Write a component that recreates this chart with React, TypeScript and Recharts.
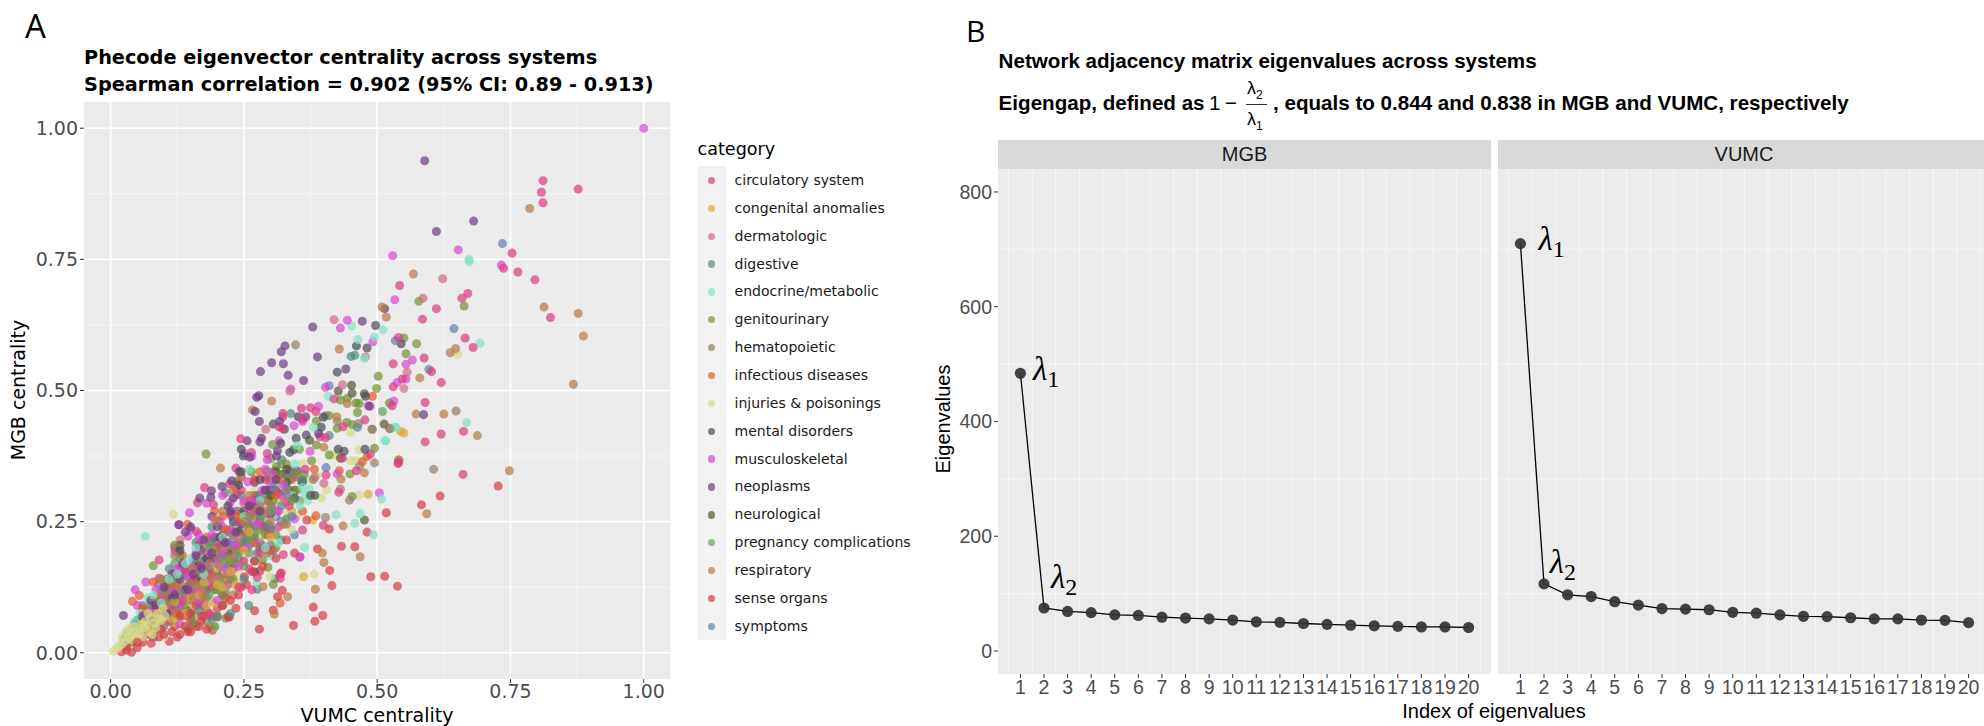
import {
  CartesianGrid,
  Cell,
  Line,
  LineChart,
  ReferenceDot,
  Scatter,
  ScatterChart,
  XAxis,
  YAxis,
  ZAxis,
} from "recharts";

type Pt = [number, number];

const circulatory: Pt[] = [[.811,.9],[.877,.884],[.808,.878],[.811,.858],[.753,.762],[.737,.733],[.764,.726],[.796,.711],[.542,.7],[.67,.685],[.659,.676],[.611,.656],[.825,.639],[.585,.636],[.665,.6],[.54,.601],[.68,.582],[.588,.562],[.53,.551],[.602,.536],[.547,.522],[.62,.515],[.53,.507],[.419,.484],[.528,.471],[.59,.477],[.62,.417],[.59,.402],[.662,.422],[.358,.466],[.375,.467],[.385,.46],[.323,.456],[.323,.45],[.477,.444],[.36,.445],[.436,.431],[.316,.431],[.322,.428],[.393,.412],[.403,.41],[.244,.408],[.264,.382],[.294,.38],[.487,.379],[.435,.371],[.54,.362],[.539,.361],[.661,.34],[.404,.339],[.461,.347],[.235,.352],[.176,.315],[.163,.286],[.223,.322],[.235,.313],[.236,.301],[.428,.306],[.399,.243],[.36,.234],[.355,.183],[.318,.142],[.318,.15],[.275,.144],[.121,.193],[.091,.177],[.091,.142],[.193,.282],[.161,.231],[.249,.2],[.227,.26],[.302,.279],[.265,.282],[.33,.288],[.293,.196],[.324,.187],[.28,.25],[.3,.235],[.2,.19],[.18,.12],[.15,.11],[.13,.16],[.07,.05],[.1,.09],[.21,.15],[.26,.16],[.17,.07],[.245,.31],[.03,.02],[.045,.05],[.055,.035],[.065,.07],[.08,.06],[.085,.085],[.095,.07],[.105,.105],[.115,.08],[.125,.125],[.135,.098],[.14,.155],[.145,.072],[.155,.14],[.165,.118],[.17,.165],[.175,.09],[.185,.15],[.19,.125],[.195,.18],[.205,.205],[.21,.11],[.22,.13],[.225,.235],[.23,.16],[.24,.25],[.25,.175],[.255,.23],[.26,.27],[.27,.21],[.275,.3],[.28,.19],[.285,.24],[.29,.33],[.295,.265],[.31,.31],[.315,.24],[.335,.28],[.345,.335],[.365,.35],[.24,.125],[.265,.12],[.15,.06],[.185,.075]];
const congenital: Pt[] = [[.544,.422],[.55,.419],[.483,.302],[.379,.253],[.362,.145],[.09,.082],[.1,.078],[.125,.072],[.135,.085],[.15,.09],[.16,.075],[.06,.05],[.07,.062],[.17,.1],[.185,.125],[.205,.15],[.22,.17],[.245,.21],[.11,.1],[.13,.11],[.145,.067],[.09,.115],[.035,.03],[.05,.035],[.28,.255],[.34,.27],[.12,.058],[.155,.13],[.195,.095],[.19,.165],[.04,.04],[.055,.03],[.065,.045],[.08,.04],[.085,.07],[.105,.085],[.115,.065],[.12,.098],[.14,.075],[.15,.105],[.165,.11],[.175,.135],[.18,.09],[.2,.13],[.21,.125],[.225,.155],[.235,.13],[.25,.195],[.26,.23],[.3,.22]];
const dermatologic: Pt[] = [[.623,.713],[.586,.676],[.419,.635],[.478,.564],[.556,.535],[.435,.511],[.55,.504],[.336,.499],[.291,.426],[.4,.323],[.383,.335],[.14,.145],[.2,.22],[.11,.06],[.07,.04],[.18,.19],[.25,.285],[.265,.24],[.23,.18],[.15,.1],[.3,.3],[.1,.13],[.12,.15],[.34,.33],[.285,.205],[.31,.26],[.13,.215],[.195,.255],[.16,.165],[.045,.035],[.06,.055],[.08,.075],[.09,.055],[.105,.09],[.13,.125],[.145,.11],[.155,.16],[.17,.12],[.185,.17],[.2,.14],[.215,.2],[.225,.15],[.24,.22],[.27,.27],[.29,.27],[.325,.29]];
const digestive: Pt[] = [[.451,.565],[.458,.567],[.338,.456],[.215,.305],[.321,.368],[.308,.141],[.275,.121],[.259,.09],[.41,.414],[.245,.3],[.27,.282],[.29,.31],[.305,.29],[.312,.27],[.265,.22],[.29,.24],[.24,.2],[.2,.19],[.16,.21],[.18,.2],[.11,.16],[.13,.13],[.09,.1],[.06,.06],[.04,.045],[.08,.03],[.1,.05],[.15,.07],[.17,.09],[.22,.15],[.215,.115],[.19,.24],[.13,.19],[.33,.315],[.36,.33],[.025,.015],[.245,.265],[.32,.215],[.305,.195],[.03,.03],[.045,.03],[.05,.062],[.07,.08],[.075,.06],[.085,.045],[.095,.115],[.105,.08],[.115,.13],[.125,.095],[.135,.155],[.14,.11],[.15,.125],[.16,.17],[.165,.08],[.175,.12],[.185,.16],[.19,.21],[.195,.13],[.205,.18],[.21,.13],[.22,.2],[.23,.17],[.235,.25],[.25,.21],[.26,.28],[.275,.19],[.28,.3],[.3,.24],[.32,.28],[.34,.345],[.2,.07],[.225,.075],[.19,.065],[.25,.14]];
const endocrine: Pt[] = [[.673,.746],[.672,.75],[.452,.623],[.511,.616],[.495,.602],[.464,.597],[.693,.59],[.476,.561],[.408,.489],[.668,.439],[.516,.404],[.534,.43],[.535,.43],[.515,.404],[.373,.312],[.365,.301],[.37,.29],[.508,.293],[.468,.265],[.458,.247],[.493,.225],[.423,.263],[.364,.201],[.274,.131],[.196,.049],[.065,.222],[.34,.3],[.355,.28],[.33,.255],[.3,.185],[.35,.395],[.38,.43],[.26,.35],[.305,.26],[.19,.2],[.17,.17],[.12,.13],[.07,.105],[.055,.075],[.15,.18],[.23,.24],[.03,.04],[.045,.06],[.08,.11],[.095,.095],[.11,.14],[.125,.15],[.14,.17],[.16,.2],[.175,.15],[.21,.22],[.25,.26],[.28,.29],[.32,.32],[.345,.36],[.36,.315],[.315,.21],[.29,.2]];
const genitourinary: Pt[] = [[.55,.6],[.574,.589],[.578,.67],[.663,.661],[.554,.57],[.502,.527],[.499,.504],[.431,.482],[.444,.485],[.46,.476],[.466,.475],[.463,.458],[.523,.476],[.41,.452],[.386,.442],[.443,.439],[.453,.435],[.425,.428],[.304,.397],[.386,.396],[.354,.388],[.179,.379],[.495,.39],[.41,.377],[.377,.366],[.264,.345],[.294,.346],[.311,.355],[.308,.347],[.363,.34],[.449,.341],[.237,.326],[.358,.326],[.453,.298],[.295,.163],[.285,.177],[.216,.066],[.08,.166],[.27,.3],[.3,.33],[.33,.36],[.285,.27],[.26,.26],[.31,.225],[.35,.31],[.22,.23],[.24,.235],[.27,.225],[.215,.19],[.19,.17],[.16,.155],[.17,.14],[.14,.13],[.12,.11],[.14,.085],[.16,.05],[.18,.08],[.2,.12],[.1,.07],[.08,.05],[.06,.08],[.045,.025],[.21,.09],[.23,.14],[.27,.175],[.33,.255],[.305,.13],[.12,.205],[.13,.18],[.29,.225],[.04,.02],[.05,.06],[.07,.045],[.075,.09],[.09,.06],[.095,.1],[.105,.14],[.11,.06],[.115,.095],[.125,.14],[.13,.085],[.135,.1],[.145,.16],[.15,.075],[.155,.11],[.165,.18],[.17,.105],[.175,.125],[.18,.155],[.185,.2],[.195,.12],[.2,.145],[.205,.195],[.21,.11],[.22,.18],[.225,.14],[.235,.17],[.24,.21],[.25,.165],[.255,.225],[.26,.24],[.275,.27],[.28,.235],[.295,.3],[.305,.29],[.32,.34],[.335,.33],[.34,.29],[.35,.34],[.195,.05],[.155,.06]];
const hematopoietic: Pt[] = [[.347,.587],[.648,.461],[.523,.428],[.491,.426],[.425,.442],[.465,.437],[.49,.426],[.524,.427],[.467,.356],[.495,.362],[.431,.312],[.448,.291],[.403,.258],[.606,.35],[.38,.33],[.24,.27],[.18,.18],[.21,.15],[.12,.085],[.33,.245],[.28,.21],[.12,.185],[.05,.045],[.08,.07],[.105,.095],[.13,.115],[.15,.13],[.17,.15],[.2,.18],[.23,.225],[.26,.26],[.3,.28],[.33,.31]];
const infectious: Pt[] = [[.491,.489],[.481,.374],[.472,.364],[.335,.35],[.382,.35],[.429,.347],[.385,.261],[.318,.095],[.144,.245],[.054,.109],[.041,.098],[.28,.345],[.21,.26],[.195,.27],[.295,.29],[.36,.27],[.185,.215],[.135,.185],[.165,.15],[.1,.09],[.08,.135],[.235,.195],[.06,.085],[.09,.105],[.11,.13],[.13,.075],[.15,.135],[.17,.115],[.19,.15],[.2,.2],[.215,.235],[.24,.26],[.26,.29],[.27,.33],[.31,.3],[.315,.33]];
const injuries: Pt[] = [[.651,.569],[.45,.42],[.466,.387],[.418,.377],[.425,.38],[.451,.366],[.46,.366],[.387,.338],[.405,.31],[.395,.295],[.466,.3],[.382,.15],[.299,.145],[.118,.264],[.3,.255],[.305,.215],[.31,.265],[.27,.31],[.295,.275],[.33,.27],[.345,.295],[.36,.36],[.375,.33],[.24,.33],[.265,.235],[.285,.225],[.29,.245],[.31,.29],[.32,.31],[.335,.3],[.34,.235],[.35,.26],[.27,.26],[.28,.24],[.3,.24],[.25,.245],[.255,.19],[.225,.225],[.232,.18],[.24,.2],[.2,.21],[.24,.15],[.245,.175],[.175,.195],[.21,.235],[.225,.205],[.155,.09],[.135,.05],[.185,.1],[.228,.12],[.222,.098],[.108,.095],[.115,.11],[.122,.122],[.13,.104],[.14,.096],[.1,.03],[.11,.125],[.135,.14],[.143,.114],[.15,.127],[.165,.135],[.172,.153],[.18,.142],[.19,.155],[.198,.168],[.205,.135],[.21,.17],[.16,.12],[.105,.105],[.112,.118],[.118,.09],[.125,.098],[.128,.13],[.132,.12],[.138,.105],[.148,.14],[.155,.105],[.162,.148],[.168,.118],[.175,.13],[.178,.16],[.185,.17],[.192,.135],[.195,.19],[.2,.175],[.215,.155],[.218,.19],[.02,.015],[.027,.022],[.034,.028],[.012,.008],[.04,.034],[.046,.04],[.053,.046],[.06,.03],[.058,.055],[.035,.047],[.068,.052],[.075,.067],[.082,.056],[.088,.075],[.05,.025],[.005,.003],[.095,.062],[.078,.035],[.015,.012],[.022,.03],[.03,.04],[.038,.025],[.043,.05],[.048,.03],[.055,.038],[.062,.048],[.065,.06],[.072,.04],[.07,.075],[.085,.048],[.09,.065],[.098,.085],[.102,.07]];
const mental: Pt[] = [[.497,.624],[.545,.589],[.461,.585],[.481,.581],[.425,.535],[.478,.489],[.352,.45],[.399,.449],[.305,.436],[.326,.426],[.348,.409],[.367,.415],[.395,.43],[.319,.399],[.336,.382],[.245,.388],[.249,.375],[.427,.388],[.477,.388],[.438,.384],[.36,.326],[.383,.3],[.27,.154],[.225,.265],[.22,.28],[.345,.295],[.29,.24],[.315,.305],[.195,.22],[.13,.195],[.16,.14],[.1,.09],[.24,.32],[.07,.065],[.115,.105],[.14,.12],[.165,.165],[.18,.18],[.21,.215],[.23,.25],[.25,.27],[.27,.29],[.3,.31],[.32,.34],[.33,.35],[.28,.33],[.245,.345]];
const musculoskeletal: Pt[] = [[1,1],[.652,.768],[.529,.757],[.733,.739],[.533,.673],[.444,.634],[.431,.619],[.492,.593],[.566,.558],[.554,.55],[.554,.522],[.537,.515],[.403,.506],[.338,.503],[.531,.48],[.483,.471],[.39,.47],[.36,.441],[.344,.433],[.316,.404],[.374,.384],[.294,.368],[.425,.341],[.293,.335],[.257,.326],[.224,.286],[.504,.305],[.148,.267],[.128,.244],[.066,.135],[.046,.12],[.25,.38],[.265,.375],[.245,.335],[.27,.33],[.21,.3],[.235,.27],[.26,.245],[.28,.285],[.18,.285],[.165,.225],[.145,.222],[.15,.235],[.23,.205],[.24,.195],[.22,.21],[.16,.14],[.115,.14],[.12,.2],[.11,.095],[.05,.09],[.065,.06],[.14,.125],[.13,.055],[.195,.205],[.175,.16],[.105,.125],[.155,.175],[.3,.32],[.355,.182],[.32,.3],[.345,.255],[.2,.1],[.21,.24],[.035,.04],[.06,.045],[.075,.08],[.085,.12],[.095,.075],[.1,.105],[.105,.06],[.115,.115],[.125,.16],[.13,.09],[.135,.165],[.14,.105],[.145,.145],[.15,.12],[.16,.19],[.165,.1],[.17,.215],[.18,.14],[.185,.19],[.19,.225],[.2,.17],[.205,.25],[.21,.19],[.215,.16],[.225,.23],[.235,.205],[.24,.165],[.25,.29],[.255,.2],[.265,.29],[.275,.245],[.285,.31],[.29,.35],[.305,.34],[.315,.27],[.325,.32]];
const neoplasms: Pt[] = [[.589,.938],[.681,.823],[.611,.803],[.514,.656],[.472,.632],[.379,.621],[.327,.585],[.32,.574],[.388,.564],[.302,.553],[.324,.551],[.281,.536],[.441,.541],[.333,.529],[.362,.519],[.278,.49],[.274,.487],[.271,.46],[.486,.47],[.587,.454],[.366,.45],[.279,.441],[.317,.441],[.39,.418],[.256,.404],[.283,.409],[.28,.402],[.313,.385],[.311,.375],[.261,.373],[.241,.345],[.349,.347],[.227,.328],[.209,.317],[.189,.309],[.167,.295],[.188,.296],[.23,.295],[.128,.244],[.024,.071],[.14,.23],[.15,.24],[.19,.26],[.205,.22],[.17,.195],[.11,.12],[.09,.07],[.12,.09],[.15,.105],[.3,.265],[.33,.34],[.27,.325],[.245,.245],[.18,.17],[.045,.055],[.06,.07],[.075,.1],[.085,.09],[.1,.125],[.105,.075],[.115,.15],[.12,.11],[.13,.14],[.135,.17],[.145,.12],[.155,.15],[.16,.185],[.17,.16],[.175,.215],[.19,.19],[.2,.24],[.215,.21],[.225,.27],[.235,.23],[.26,.28],[.28,.27],[.29,.31],[.31,.33]];
const neurological: Pt[] = [[.452,.51],[.427,.499],[.453,.495],[.476,.494],[.513,.436],[.373,.405],[.343,.387],[.431,.371],[.476,.253],[.31,.345],[.345,.31],[.375,.3],[.21,.225],[.165,.205],[.18,.12],[.11,.075],[.28,.2],[.13,.205],[.255,.215],[.055,.055],[.09,.08],[.12,.1],[.15,.13],[.17,.145],[.19,.18],[.22,.19],[.24,.23],[.27,.27],[.3,.3],[.33,.325]];
const pregnancy: Pt[] = [[.51,.46],[.3,.37],[.32,.36],[.355,.29],[.27,.25],[.23,.205],[.2,.16],[.15,.16],[.12,.17],[.1,.11],[.08,.09],[.06,.03],[.025,.025],[.18,.06],[.145,.045],[.26,.19],[.31,.32],[.04,.03],[.055,.05],[.07,.07],[.09,.075],[.105,.1],[.115,.12],[.125,.085],[.135,.12],[.165,.125],[.175,.14],[.185,.11],[.205,.14],[.215,.17],[.24,.19],[.26,.22],[.285,.26],[.3,.27]];
const respiratory: Pt[] = [[.786,.847],[.568,.722],[.813,.659],[.509,.659],[.877,.647],[.517,.64],[.887,.604],[.429,.579],[.647,.58],[.637,.572],[.58,.524],[.868,.512],[.302,.48],[.444,.475],[.266,.463],[.573,.455],[.625,.455],[.688,.414],[.424,.45],[.4,.392],[.206,.352],[.541,.367],[.54,.368],[.476,.343],[.432,.331],[.748,.347],[.593,.265],[.436,.242],[.468,.183],[.397,.19],[.4,.172],[.384,.121],[.286,.126],[.307,.074],[.332,.107],[.186,.05],[.245,.335],[.26,.3],[.21,.27],[.27,.26],[.18,.22],[.15,.15],[.17,.13],[.11,.1],[.23,.11],[.08,.05],[.095,.14],[.295,.19],[.03,.035],[.055,.04],[.065,.055],[.075,.045],[.09,.085],[.1,.06],[.105,.11],[.12,.075],[.125,.13],[.135,.07],[.145,.1],[.155,.105],[.16,.13],[.175,.105],[.19,.14],[.205,.165],[.215,.145],[.225,.18],[.235,.2],[.25,.25],[.265,.21],[.28,.28],[.3,.25],[.31,.2],[.325,.245],[.23,.31],[.2,.25]];
const senseOrgans: Pt[] = [[.727,.318],[.618,.299],[.583,.282],[.517,.267],[.433,.203],[.458,.202],[.481,.23],[.388,.198],[.41,.236],[.411,.157],[.488,.145],[.514,.146],[.538,.127],[.415,.128],[.38,.087],[.398,.071],[.383,.06],[.368,.253],[.27,.08],[.279,.045],[.343,.052],[.305,.081],[.322,.119],[.313,.107],[.32,.152],[.28,.156],[.251,.145],[.22,.069],[.191,.043],[.223,.068],[.039,.001],[.076,.018],[.02,.002],[.03,.012],[.05,.01],[.11,.022],[.09,.03],[.13,.035],[.12,.05],[.15,.04],[.165,.05],[.18,.045],[.2,.085],[.215,.105],[.245,.125],[.27,.175],[.3,.195],[.295,.225],[.2,.068],[.16,.09],[.07,.035],[.03,.005],[.06,.02],[.08,.04],[.095,.045],[.1,.035],[.115,.04],[.125,.03],[.14,.05],[.145,.04],[.155,.055],[.17,.06],[.175,.07],[.19,.07],[.21,.09],[.225,.1],[.235,.085],[.24,.11],[.255,.13],[.265,.155],[.285,.165],[.31,.18],[.33,.215],[.345,.19],[.13,.07],[.15,.075],[.05,.02]];
const symptoms: Pt[] = [[.735,.78],[.644,.618],[.534,.595],[.597,.54],[.41,.509],[.403,.452],[.463,.43],[.404,.353],[.335,.31],[.29,.29],[.31,.26],[.345,.225],[.27,.22],[.255,.25],[.3,.205],[.225,.19],[.21,.175],[.19,.16],[.15,.14],[.09,.13],[.13,.12],[.11,.105],[.06,.09],[.165,.095],[.18,.105],[.145,.08],[.085,.065],[.21,.205],[.05,.05],[.07,.075],[.08,.085],[.095,.09],[.105,.12],[.115,.085],[.12,.135],[.125,.1],[.135,.115],[.14,.15],[.15,.16],[.16,.11],[.17,.13],[.175,.175],[.185,.14],[.2,.145],[.21,.19],[.22,.165],[.23,.215],[.24,.18],[.25,.22],[.26,.205],[.27,.24],[.28,.26],[.295,.245],[.305,.31],[.32,.25],[.33,.3],[.34,.26]];

const groups: { name: string; color: string; points: Pt[] }[] = [
  { name: "circulatory system", color: "#DC3C7F", points: circulatory },
  { name: "congenital anomalies", color: "#DCA83C", points: congenital },
  { name: "dermatologic", color: "#D26C80", points: dermatologic },
  { name: "digestive", color: "#538C80", points: digestive },
  { name: "endocrine/metabolic", color: "#80E3C5", points: endocrine },
  { name: "genitourinary", color: "#729336", points: genitourinary },
  { name: "hematopoietic", color: "#948069", points: hematopoietic },
  { name: "infectious diseases", color: "#E75A25", points: infectious },
  { name: "injuries & poisonings", color: "#D5DC8C", points: injuries },
  { name: "mental disorders", color: "#4D4A5A", points: mental },
  { name: "musculoskeletal", color: "#D847D1", points: musculoskeletal },
  { name: "neoplasms", color: "#6D3C80", points: neoplasms },
  { name: "neurological", color: "#535933", points: neurological },
  { name: "pregnancy complications", color: "#61A35E", points: pregnancy },
  { name: "respiratory", color: "#B77B47", points: respiratory },
  { name: "sense organs", color: "#D63C47", points: senseOrgans },
  { name: "symptoms", color: "#6180AE", points: symptoms },
];

// the categories overlap in the reference, so the points are mixed rather than drawn group by group
const mixedPoints = groups
  .flatMap((g) => g.points.map(([x, y], i) => ({ x, y, color: g.color, rank: (i + 0.5) / g.points.length })))
  .sort((a, b) => a.rank - b.rank);

const indexTicks = [1, 2, 3, 4, 5, 6, 7, 8, 9, 10, 11, 12, 13, 14, 15, 16, 17, 18, 19, 20];
const mgbEigen = [484, 75, 69, 67, 63, 62, 59, 57.5, 56, 54, 51, 50, 48, 46.5, 45, 44, 43, 42, 42, 41];
const vumcEigen = [710, 117, 98, 95, 86, 80, 74, 73, 72, 67.5, 66, 63, 60.5, 60, 58, 56, 56, 54, 53.5, 49.5];
const eigenMinorX = [0.5, 1.5, 2.5, 3.5, 4.5, 5.5, 6.5, 7.5, 8.5, 9.5, 10.5, 11.5, 12.5, 13.5, 14.5, 15.5, 16.5, 17.5, 18.5, 19.5, 20.5];
const eigenMinorY = [100, 300, 500, 700];
const eigenTicksY = [0, 200, 400, 600, 800];
const centralityTicks = [0, 0.25, 0.5, 0.75, 1];
const centralityMinor = [0.125, 0.375, 0.625, 0.875];

const SANS = "'DejaVu Sans'";
const HELV = "'Liberation Sans'";

const abs = (left: number, top: number, extra: React.CSSProperties = {}): React.CSSProperties => ({
  position: "absolute",
  left,
  top,
  whiteSpace: "nowrap",
  lineHeight: 1,
  ...extra,
});

const lambdaMark = (sub: string) => (p: any) => (
  <text x={p.cx} y={p.cy} fill="#000" fontFamily="'Liberation Serif'" fontStyle="italic" fontSize={33}>
    λ
    <tspan fontStyle="normal" fontSize={24} dy={7}>{sub}</tspan>
  </text>
);

function EigenPanel({ values, left, showY, marks }: { values: number[]; left: number; showY: boolean; marks: [number, number, string][] }) {
  const data = values.map((v, i) => ({ idx: indexTicks[i], value: v }));
  const yWidth = showY ? 58 : 0;
  return (
    <div style={{ position: "absolute", left, top: 0 }}>
      <LineChart width={493 + yWidth} height={726} data={data} margin={{ top: 169, right: 0, bottom: 0, left: 0 }}>
        <CartesianGrid
          fill="#EBEBEB"
          stroke="#F7F7F7"
          strokeWidth={1}
          horizontalValues={eigenMinorY}
          verticalValues={eigenMinorX}
        />
        <XAxis
          dataKey="idx"
          type="number"
          domain={[0.05, 20.95]}
          ticks={indexTicks}
          interval={0}
          height={52}
          allowDataOverflow
          axisLine={false}
          tickSize={4}
          tickLine={{ stroke: "#333" }}
          tick={{ fill: "#4D4D4D", fontSize: 19.5, fontFamily: HELV }}
          tickMargin={2}
        />
        <YAxis
          hide={!showY}
          type="number"
          domain={[-40, 840]}
          ticks={eigenTicksY}
          width={yWidth}
          allowDataOverflow
          axisLine={false}
          tickSize={4}
          tickLine={{ stroke: "#333" }}
          tick={{ fill: "#4D4D4D", fontSize: 19.5, fontFamily: HELV }}
          tickMargin={2}
        />
        <Line
          dataKey="value"
          type="linear"
          stroke="#000"
          strokeWidth={1.3}
          dot={{ r: 5.6, fill: "#333", fillOpacity: 0.92, stroke: "none" }}
          activeDot={false}
          isAnimationActive={false}
        />
        {marks.map(([x, y, sub]) => (
          <ReferenceDot key={sub} x={x} y={y} r={0} shape={lambdaMark(sub)} />
        ))}
      </LineChart>
    </div>
  );
}

export default function App() {
  return (
    <div style={{ position: "fixed", left: 0, top: 0, width: 1984, height: 726, overflow: "hidden", background: "#fff", color: "#000" }}>
      <div style={abs(25, 9, { fontFamily: "'Open Sans'", fontSize: 33 })}>A</div>
      <div style={abs(84, 47.5, { fontFamily: SANS, fontWeight: "bold", fontSize: 19.3 })}>Phecode eigenvector centrality across systems</div>
      <div style={abs(84, 74.5, { fontFamily: SANS, fontWeight: "bold", fontSize: 19.3 })}>Spearman correlation = 0.902 (95% CI: 0.89 - 0.913)</div>

      <div style={{ position: "absolute", left: 0, top: 0 }}>
        <ScatterChart width={700} height={726} margin={{ top: 102, right: 29.6, bottom: 0, left: 0 }}>
          <CartesianGrid fill="#EBEBEB" stroke="#F7F7F7" strokeWidth={0.9} horizontalValues={centralityMinor} verticalValues={centralityMinor} />
          <CartesianGrid fill="none" stroke="#FFFFFF" strokeWidth={1.7} horizontalValues={centralityTicks} verticalValues={centralityTicks} />
          <XAxis
            dataKey="x"
            type="number"
            domain={[-0.05, 1.05]}
            ticks={centralityTicks}
            tickFormatter={(v: number) => v.toFixed(2)}
            height={47}
            allowDataOverflow
            axisLine={false}
            tickSize={4}
            tickLine={{ stroke: "#333" }}
            tick={{ fill: "#4D4D4D", fontSize: 19, fontFamily: SANS }}
            tickMargin={2}
          />
          <YAxis
            dataKey="y"
            type="number"
            domain={[-0.05, 1.05]}
            ticks={centralityTicks}
            tickFormatter={(v: number) => v.toFixed(2)}
            width={84}
            allowDataOverflow
            axisLine={false}
            tickSize={4}
            tickLine={{ stroke: "#333" }}
            tick={{ fill: "#4D4D4D", fontSize: 19, fontFamily: SANS }}
            tickMargin={2}
          />
          <ZAxis range={[44, 44]} />
          <Scatter data={mixedPoints} fillOpacity={0.7} isAnimationActive={false}>
            {mixedPoints.map((p, i) => (
              <Cell key={i} fill={p.color} />
            ))}
          </Scatter>
        </ScatterChart>
      </div>
      <div style={abs(377, 705.5, { fontFamily: SANS, fontSize: 19, transform: "translateX(-50%)" })}>VUMC centrality</div>
      <div style={abs(18, 390, { fontFamily: SANS, fontSize: 19, transform: "translate(-50%,-50%) rotate(-90deg)" })}>MGB centrality</div>

      <div style={abs(697.5, 141, { fontFamily: SANS, fontSize: 17.6 })}>category</div>
      <div style={{ position: "absolute", left: 697.5, top: 166.3, width: 28, height: 474, background: "#F2F2F2" }} />
      {groups.map((g, i) => {
        const cy = 180.5 + i * 27.86;
        return (
          <div key={g.name}>
            <div style={{ position: "absolute", left: 707.7, top: cy - 3.7, width: 7.4, height: 7.4, borderRadius: "50%", background: g.color, opacity: 0.7 }} />
            <div style={abs(734.5, cy - 7.5, { fontFamily: SANS, fontSize: 14.05, color: "#1a1a1a" })}>{g.name}</div>
          </div>
        );
      })}

      <div style={abs(966, 16, { fontFamily: "'Open Sans'", fontSize: 30 })}>B</div>
      <div style={abs(998.6, 50.5, { fontFamily: HELV, fontWeight: "bold", fontSize: 20.6 })}>Network adjacency matrix eigenvalues across systems</div>
      <div style={abs(998.6, 92.5, { fontFamily: HELV, fontWeight: "bold", fontSize: 20.6 })}>Eigengap, defined as</div>
      <div style={abs(1209, 92.5, { fontFamily: HELV, fontSize: 20.5 })}>1</div>
      <div style={abs(1225, 92.5, { fontFamily: HELV, fontSize: 20.5 })}>−</div>
      <div style={abs(1247, 79, { fontFamily: HELV, fontSize: 18 })}>λ<sub style={{ fontSize: 12 }}>2</sub></div>
      <div style={{ position: "absolute", left: 1246, top: 104, width: 21, height: 1, background: "#333" }} />
      <div style={abs(1247, 110, { fontFamily: HELV, fontSize: 18 })}>λ<sub style={{ fontSize: 12 }}>1</sub></div>
      <div style={abs(1273, 92.5, { fontFamily: HELV, fontWeight: "bold", fontSize: 20.6 })}>, equals to 0.844 and 0.838 in MGB and VUMC, respectively</div>

      <div style={{ position: "absolute", left: 998, top: 139.5, width: 493, height: 29.5, background: "#D9D9D9" }} />
      <div style={{ position: "absolute", left: 1497.5, top: 139.5, width: 487, height: 29.5, background: "#D9D9D9" }} />
      <div style={abs(1244.5, 144, { fontFamily: HELV, fontSize: 20, color: "#1A1A1A", transform: "translateX(-50%)" })}>MGB</div>
      <div style={abs(1744, 144, { fontFamily: HELV, fontSize: 20, color: "#1A1A1A", transform: "translateX(-50%)" })}>VUMC</div>

      <EigenPanel values={mgbEigen} left={940} showY marks={[[1.53, 472, "1"], [2.3, 110, "2"]]} />
      <EigenPanel values={vumcEigen} left={1497.5} showY={false} marks={[[1.77, 699, "1"], [2.24, 136, "2"]]} />

      <div style={abs(1494, 701, { fontFamily: HELV, fontSize: 20, transform: "translateX(-50%)" })}>Index of eigenvalues</div>
      <div style={abs(943, 419, { fontFamily: HELV, fontSize: 20, transform: "translate(-50%,-50%) rotate(-90deg)" })}>Eigenvalues</div>
    </div>
  );
}
